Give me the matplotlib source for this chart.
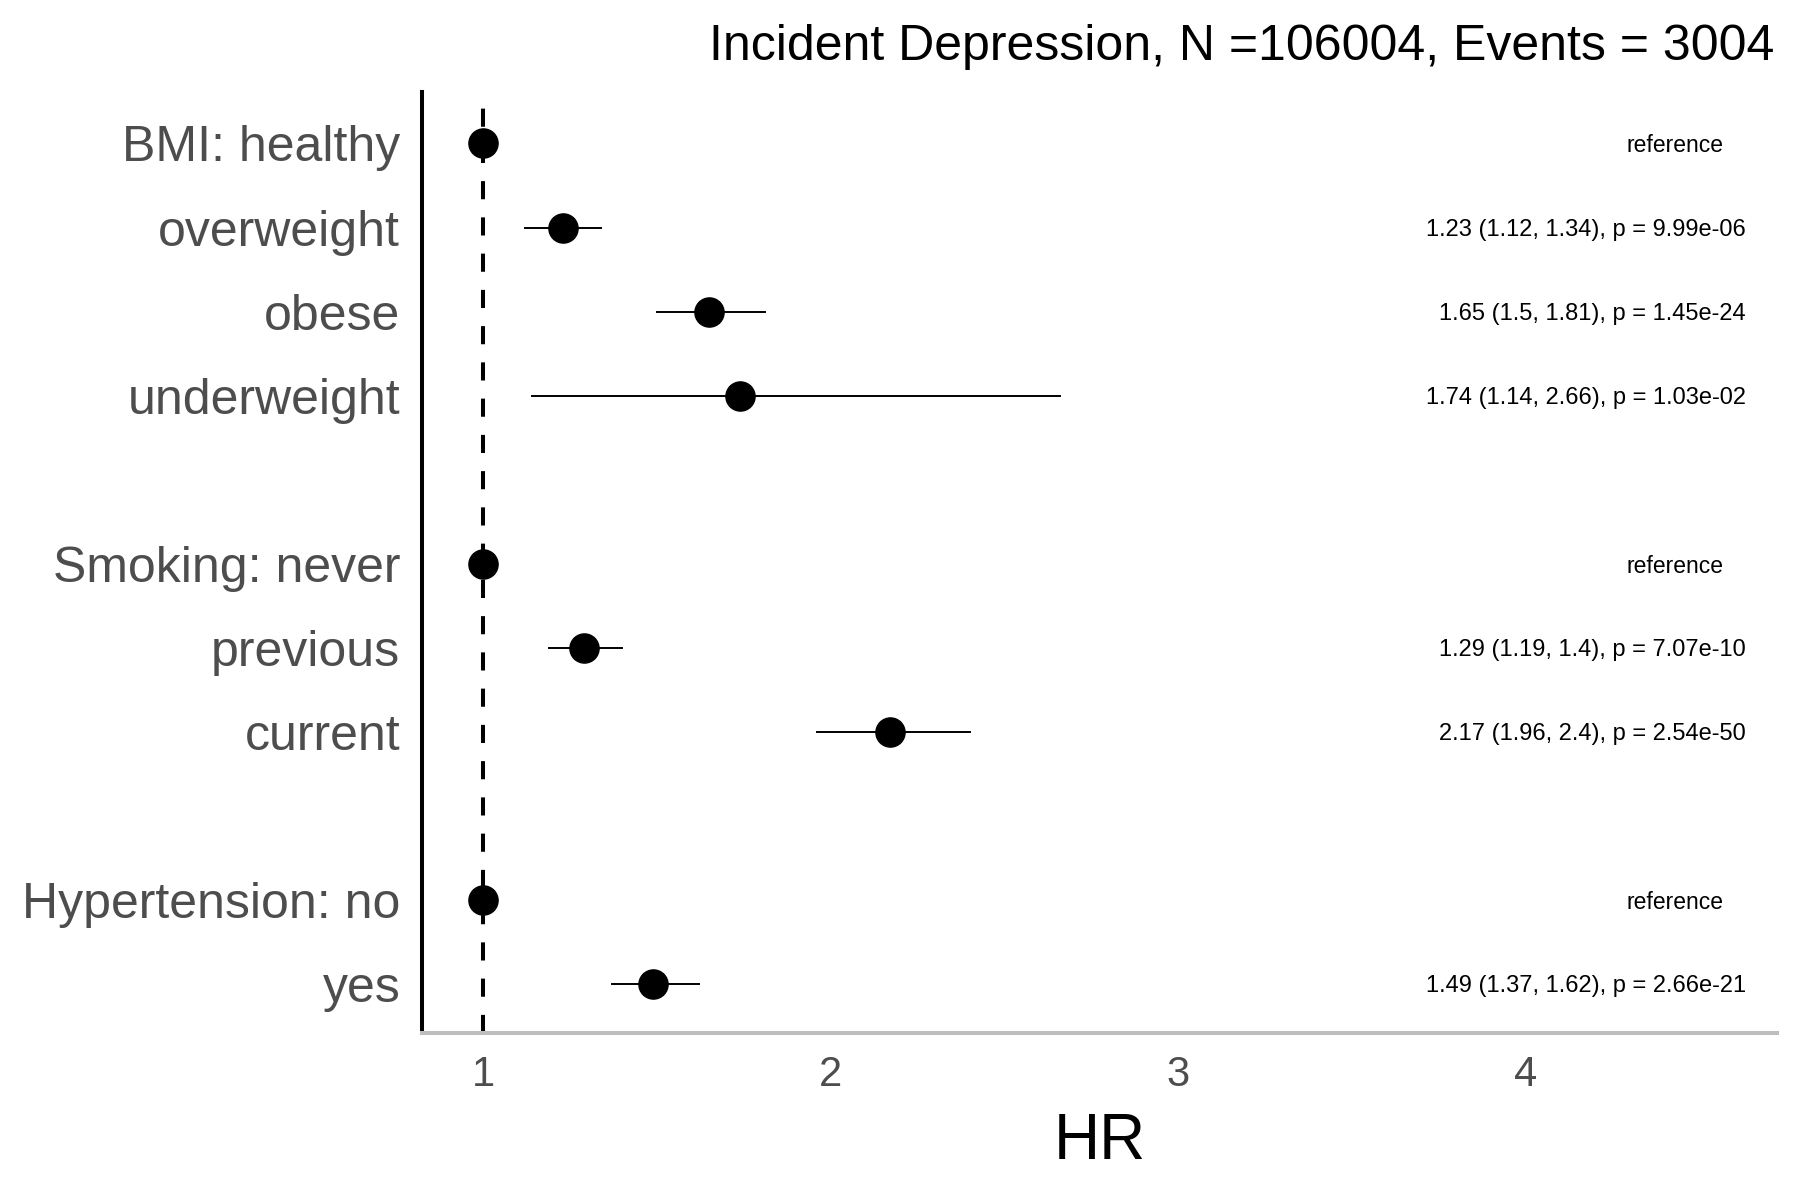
import numpy as np
import matplotlib
matplotlib.use("Agg")
import matplotlib.pyplot as plt

# Donnees
labels = ["BMI: healthy", "overweight", "obese", "underweight",
          "Smoking: never", "previous", "current",
          "Hypertension: no", "yes"]
rows = [0, 1, 2, 3, 5, 6, 7, 9, 10]
hr = [1.0, 1.23, 1.65, 1.74, 1.0, 1.29, 2.17, 1.0, 1.49]
lo = [np.nan, 1.12, 1.5, 1.14, np.nan, 1.19, 1.96, np.nan, 1.37]
hi = [np.nan, 1.34, 1.81, 2.66, np.nan, 1.4, 2.4, np.nan, 1.62]
pvals = [None, "9.99e-06", "1.45e-24", "1.03e-02", None,
         "7.07e-10", "2.54e-50", None, "2.66e-21"]
xticks = [1, 2, 3, 4]
title = "Incident Depression, N =106004, Events = 3004"

plt.rcParams['font.family'] = ['Liberation Sans', 'DejaVu Sans']

fig = plt.figure(figsize=(18, 12), dpi=100)
ax = fig.add_axes([0.2347, 0.1392, 0.7525, 0.7843])

# ligne de reference HR = 1
ax.axvline(1, color='black', lw=2.9, linestyle=(0, (4.5, 4.5)), zorder=1)

# intervalles de confiance
for r, l, h in zip(rows, lo, hi):
    if not np.isnan(l):
        ax.plot([l, h], [r, r], color='black', lw=1.4, zorder=2)

ax.plot(hr, rows, linestyle='none', marker='o', markersize=21,
        color='black', zorder=3)

# textes a droite
for r, h, l, u, p in zip(rows, hr, lo, hi, pvals):
    if p is None:
        ax.text(4.569, r, "reference", ha='right', va='center_baseline',
                fontsize=16.5)
    else:
        txt = f"{h:g} ({l:g}, {u:g}), p = {p}"
        ax.text(4.632, r, txt, ha='right', va='center_baseline', fontsize=17)

ax.set_xlim(0.826, 4.722)
ax.set_ylim(10.583, -0.615)
ax.set_xticks(xticks)
ax.set_xticklabels([str(x) for x in xticks])
ax.set_yticks(rows)
ax.set_yticklabels(labels)
ax.tick_params(axis='both', length=0)
ax.tick_params(axis='x', labelsize=30, labelcolor='#4D4D4D', pad=16)
ax.tick_params(axis='y', labelsize=36, labelcolor='#4D4D4D', pad=16)
ax.set_xlabel("HR", fontsize=46, labelpad=12)

for s in ['top', 'right']:
    ax.spines[s].set_visible(False)
ax.spines['left'].set_color('black')
ax.spines['left'].set_linewidth(2.9)
ax.spines['bottom'].set_color('#BEBEBE')
ax.spines['bottom'].set_linewidth(2.9)

fig.text(0.9856, 0.961, title, ha='right', va='center', fontsize=36)

plt.savefig('out.png', dpi=100)
